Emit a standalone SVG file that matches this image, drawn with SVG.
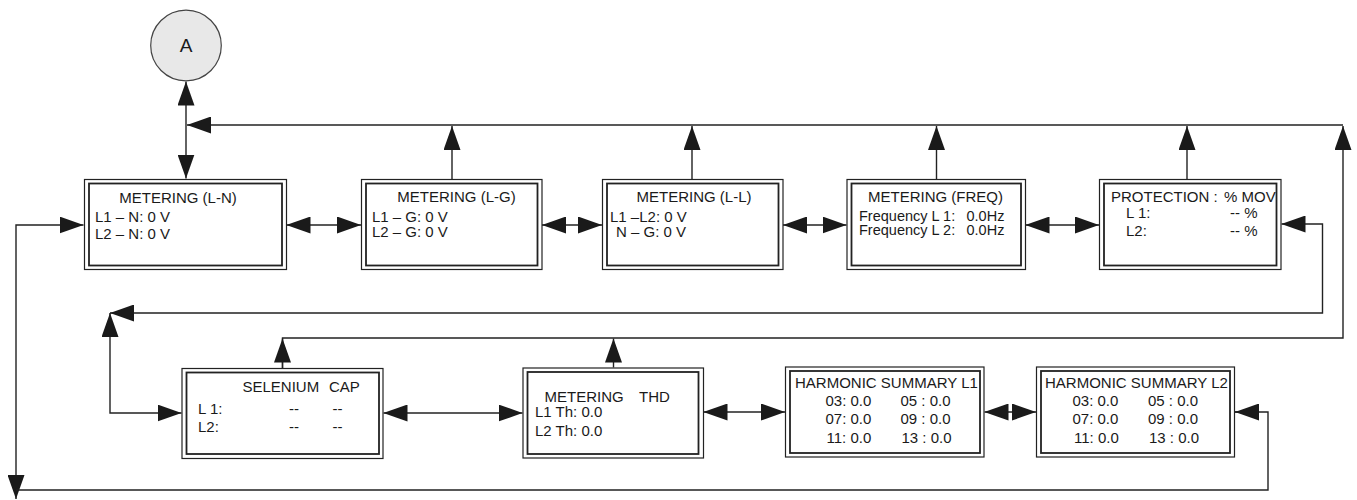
<svg xmlns="http://www.w3.org/2000/svg" width="1357" height="500" viewBox="0 0 1357 500">
<style>
.o{fill:#fff;stroke:#222;stroke-width:1.2}
.i{fill:none;stroke:#222;stroke-width:1.8}
.t{font-family:"Liberation Sans",Arial,sans-serif;font-size:15px;fill:#1a1a1a}
.c{text-anchor:middle}
.w{fill:none;stroke:#222;stroke-width:1.4}
</style>
<defs>
<marker id="ah" markerUnits="userSpaceOnUse" markerWidth="24" markerHeight="17" refX="24" refY="8.5" orient="auto-start-reverse" viewBox="0 0 24 17">
<path d="M0,0 L24,8.5 L0,17 Z" fill="#1a1a1a"/>
</marker>
</defs>
<rect width="1357" height="500" fill="#fff"/>
<g id="connectors" class="w">
<path class="w" d="M186,81.5 V178.5" marker-start="url(#ah)" marker-end="url(#ah)"/>
<path class="w" d="M1343,125 H187" marker-end="url(#ah)"/>
<path class="w" d="M452,179 V126" marker-end="url(#ah)"/>
<path class="w" d="M692,179 V126" marker-end="url(#ah)"/>
<path class="w" d="M936.5,179 V126" marker-end="url(#ah)"/>
<path class="w" d="M1187,179 V126" marker-end="url(#ah)"/>
<path class="w" d="M286.5,225 H361" marker-start="url(#ah)" marker-end="url(#ah)"/>
<path class="w" d="M542,225 H602" marker-start="url(#ah)" marker-end="url(#ah)"/>
<path class="w" d="M783,225 H846.5" marker-start="url(#ah)" marker-end="url(#ah)"/>
<path class="w" d="M1025.5,225 H1099" marker-start="url(#ah)" marker-end="url(#ah)"/>
<path class="w" d="M83.5,225 H16 V499" marker-start="url(#ah)" marker-end="url(#ah)"/>
<path class="w" d="M1235,412 H1268 V490 H16"/>
<path class="w" d="M1235,412 H1250" marker-start="url(#ah)"/>
<path class="w" d="M110,313 H1322.5 V224 H1281.5" marker-start="url(#ah)" marker-end="url(#ah)"/>
<path class="w" d="M110,313 V413 H181.5" marker-start="url(#ah)" marker-end="url(#ah)"/>
<path class="w" d="M282.5,368 V338 H1343 V126" marker-end="url(#ah)"/>
<path class="w" d="M282.5,368 V338.5" marker-end="url(#ah)"/>
<path class="w" d="M613.5,367.5 V338.5" marker-end="url(#ah)"/>
<path class="w" d="M383.5,413 H522.5" marker-start="url(#ah)" marker-end="url(#ah)"/>
<path class="w" d="M703.5,412 H785" marker-start="url(#ah)" marker-end="url(#ah)"/>
<path class="w" d="M984.5,412 H1036" marker-start="url(#ah)" marker-end="url(#ah)"/>
</g>
<g id="nodeA">
<circle cx="186" cy="45.5" r="35.3" fill="#e8e8e8" stroke="#444" stroke-width="1.2"/>
<text class="t c" x="186" y="52" style="font-size:19px">A</text>
</g>
<g id="meteringLN">
<rect class="o" x="84.5" y="179.5" width="202" height="90"/>
<rect class="i" x="89" y="183.5" width="193" height="82"/>
<text class="t c" x="178" y="203">METERING (L-N)</text>
<text class="t" x="95" y="221.5">L1 – N: 0 V</text>
<text class="t" x="95" y="238.5">L2 – N: 0 V</text>
</g>
<g id="meteringLG">
<rect class="o" x="361.5" y="179.5" width="180.5" height="90"/>
<rect class="i" x="366" y="183.5" width="171.5" height="82"/>
<text class="t c" x="456.5" y="202">METERING (L-G)</text>
<text class="t" x="372" y="221.5">L1 – G: 0 V</text>
<text class="t" x="372" y="237">L2 – G: 0 V</text>
</g>
<g id="meteringLL">
<rect class="o" x="602.5" y="179.5" width="180.5" height="90"/>
<rect class="i" x="607" y="183.5" width="171.5" height="82"/>
<text class="t c" x="694" y="202">METERING (L-L)</text>
<text class="t" x="610" y="221.5">L1 –L2: 0 V</text>
<text class="t" x="616" y="237">N – G: 0 V</text>
</g>
<g id="meteringFREQ">
<rect class="o" x="847" y="179.5" width="178.5" height="90"/>
<rect class="i" x="851.5" y="183.5" width="169.5" height="82"/>
<text class="t c" x="935.5" y="202">METERING (FREQ)</text>
<text class="t" x="859" y="220.5" style="font-size:14.5px">Frequency L 1:</text>
<text class="t" x="966.5" y="220.5" style="font-size:14.5px">0.0Hz</text>
<text class="t" x="859" y="234.5" style="font-size:14.5px">Frequency L 2:</text>
<text class="t" x="966.5" y="234.5" style="font-size:14.5px">0.0Hz</text>
</g>
<g id="protectionMOV">
<rect class="o" x="1099.5" y="179.5" width="181.5" height="90"/>
<rect class="i" x="1104" y="183.5" width="172.5" height="82"/>
<text class="t" x="1111" y="201.5">PROTECTION :</text>
<text class="t" x="1224" y="201.5">% MOV</text>
<text class="t" x="1126" y="217.5">L 1:</text>
<text class="t" x="1230" y="217.5">-- %</text>
<text class="t" x="1126" y="235.5">L2:</text>
<text class="t" x="1230" y="235.5">-- %</text>
</g>
<g id="selenium">
<rect class="o" x="182" y="368.5" width="201" height="90"/>
<rect class="i" x="186.5" y="372.5" width="192.5" height="81.5"/>
<text class="t" x="242.5" y="391.5">SELENIUM</text>
<text class="t" x="329" y="391.5">CAP</text>
<text class="t" x="198" y="414">L 1:</text>
<text class="t" x="289" y="414">--</text>
<text class="t" x="332.5" y="414">--</text>
<text class="t" x="198" y="431.5">L2:</text>
<text class="t" x="289" y="431.5">--</text>
<text class="t" x="332.5" y="431.5">--</text>
</g>
<g id="meteringTHD">
<rect class="o" x="523" y="368" width="180.5" height="90"/>
<rect class="i" x="527.5" y="372" width="171" height="82"/>
<text class="t" x="544.5" y="401.5">METERING</text>
<text class="t" x="639" y="401.5">THD</text>
<text class="t" x="535" y="416.5">L1 Th: 0.0</text>
<text class="t" x="535" y="435.5">L2 Th: 0.0</text>
</g>
<g id="harmonicL1">
<rect class="o" x="785.5" y="367" width="198.5" height="90"/>
<rect class="i" x="790" y="371" width="190" height="82"/>
<text class="t" x="795" y="388">HARMONIC SUMMARY L1</text>
<text class="t" x="825.5" y="405.5">03: 0.0</text>
<text class="t" x="825.5" y="424">07: 0.0</text>
<text class="t" x="826.5" y="442.5">11: 0.0</text>
<text class="t" x="900.5" y="405.5">05 : 0.0</text>
<text class="t" x="900.5" y="424">09 : 0.0</text>
<text class="t" x="901.5" y="442.5">13 : 0.0</text>
</g>
<g id="harmonicL2">
<rect class="o" x="1036.5" y="367" width="198" height="90"/>
<rect class="i" x="1041" y="371" width="189" height="82"/>
<text class="t" x="1045" y="388">HARMONIC SUMMARY L2</text>
<text class="t" x="1072.5" y="405.5">03: 0.0</text>
<text class="t" x="1072.5" y="424">07: 0.0</text>
<text class="t" x="1074" y="442.5">11: 0.0</text>
<text class="t" x="1148" y="405.5">05 : 0.0</text>
<text class="t" x="1148" y="424">09 : 0.0</text>
<text class="t" x="1149" y="442.5">13 : 0.0</text>
</g>
</svg>
